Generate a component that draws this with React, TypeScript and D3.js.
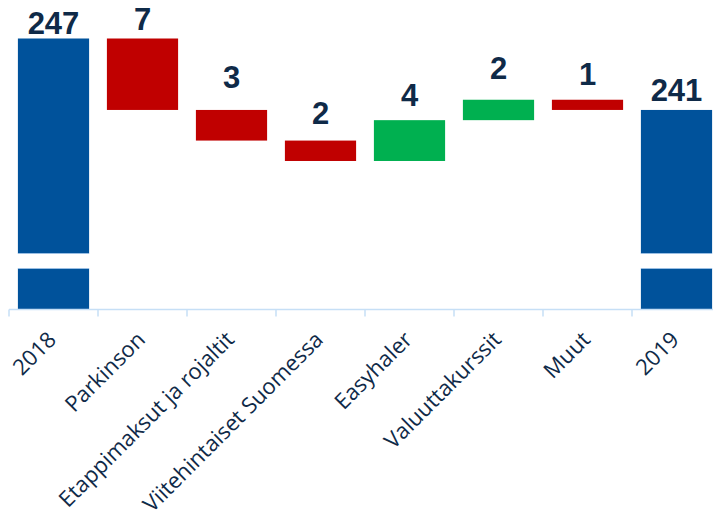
import React from 'react';
import * as d3 from 'd3';

// waterfall 2018 -> 2019
const categories = [
  '2018',
  'Parkinson',
  'Etappimaksut ja rojaltit',
  'Viitehintaiset Suomessa',
  'Easyhaler',
  'Valuuttakurssit',
  'Muut',
  '2019',
];
const startTotal = 247;
const deltas = [-7, -3, -2, 4, 2, -1];
const valueLabels = ['247', '7', '3', '2', '4', '2', '1', '241'];
// distance from bar top to label baseline, as in the picture
const labelGaps = [5, 9, 22, 17, 14, 21, 15, 9];

const W = 713;
const H = 523;
const axisY = 309.5;
const xLeft = 9;
const xRight = 721;

const BLUE = '#00529b';
const RED = '#c00000';
const GREEN = '#00b050';
const TEXT = '#0f2a48';
const AXIS = '#c6dff6';

type Bar = { cat: string; y0: number; y1: number; kind: 'total' | 'up' | 'down' };

const App: React.FC = () => {
  const bars: Bar[] = [];
  let run = startTotal;
  bars.push({ cat: categories[0], y0: NaN, y1: run, kind: 'total' });
  deltas.forEach((d, i) => {
    const prev = run;
    run += d;
    bars.push({
      cat: categories[i + 1],
      y0: Math.min(prev, run),
      y1: Math.max(prev, run),
      kind: d >= 0 ? 'up' : 'down',
    });
  });
  bars.push({ cat: categories[7], y0: NaN, y1: run, kind: 'total' });

  const x = d3.scaleBand<string>().domain(categories).range([xLeft, xRight]).paddingInner(0.2).paddingOuter(0.1);
  const y = d3.scaleLinear().domain([220.45, 247]).range([axisY, 38.5]);

  const bw = x.bandwidth();
  const step = x.step();

  return (
    <div>
      <style>{`body{margin:0}`}</style>
      <svg width={W} height={H} style={{ display: 'block', background: '#fff' }}>
        {bars.map((b, i) => {
          const bx = x(b.cat) || 0;
          const top = y(b.y1);
          const bottom = b.kind === 'total' ? axisY : y(b.y0);
          const fill = b.kind === 'total' ? BLUE : b.kind === 'up' ? GREEN : RED;
          return (
            <g key={b.cat}>
              <rect x={bx} y={top} width={bw} height={bottom - top} fill={fill} />
              {b.kind === 'total' && (
                <g>
                  <rect x={bx - 1} y={axisY - 56} width={bw + 2} height={15} fill="#fff" />
                  <line x1={bx} x2={bx + bw} y1={axisY - 56} y2={axisY - 56} stroke="#9fc4e8" strokeWidth={0.8} />
                  <line x1={bx} x2={bx + bw} y1={axisY - 41} y2={axisY - 41} stroke="#9fc4e8" strokeWidth={0.8} />
                </g>
              )}
              <text
                x={bx + bw / 2}
                y={top - labelGaps[i]}
                textAnchor="middle"
                fontFamily="'Liberation Sans', Arial, sans-serif"
                fontWeight="bold"
                fontSize={31}
                fill={TEXT}
              >
                {valueLabels[i]}
              </text>
            </g>
          );
        })}

        {/* category axis */}
        <line x1={xLeft} x2={W} y1={axisY} y2={axisY} stroke={AXIS} strokeWidth={1.5} />
        {d3.range(categories.length).map((i) => {
          const tx = xLeft + step * i;
          return <line key={i} x1={tx} x2={tx} y1={axisY} y2={axisY + 7} stroke={AXIS} strokeWidth={1.5} />;
        })}
        {categories.map((c) => {
          const cx = (x(c) || 0) + bw / 2 + 4;
          return (
            <text
              key={c}
              transform={`translate(${cx},${341}) rotate(-45)`}
              textAnchor="end"
              fontFamily="'Open Sans', sans-serif"
              fontSize={22}
              fill={TEXT}
            >
              {c}
            </text>
          );
        })}
      </svg>
    </div>
  );
};

export default App;
